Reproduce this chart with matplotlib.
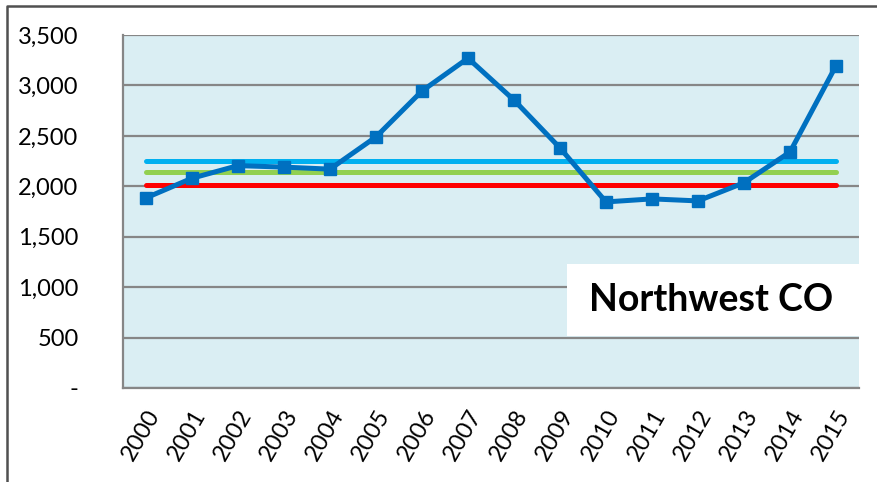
import numpy as np
import matplotlib.pyplot as plt
from matplotlib.lines import Line2D
from matplotlib.patches import Rectangle
from matplotlib.ticker import FuncFormatter

# data
years = [str(y) for y in range(2000, 2016)]
values = [1885, 2080, 2205, 2190, 2170, 2490, 2945, 3270, 2855, 2380,
          1845, 1875, 1855, 2035, 2340, 3195]
line_cyan = 2250
line_green = 2145
line_red = 2015
title = 'Northwest CO'

plt.rcParams['font.family'] = ['Lato', 'DejaVu Sans']

W, H = 877, 482
fig = plt.figure(figsize=(W / 100, H / 100), dpi=100)
ax = fig.add_axes([123 / W, 1 - 388 / H, (859 - 123) / W, (388 - 35) / H])
ax.set_facecolor('#DAEEF3')

x = np.arange(len(years))
for val, col in [(line_cyan, '#00B0F0'), (line_green, '#92D050'), (line_red, '#FF0000')]:
    ax.plot([x[0], x[-1]], [val, val], color=col, lw=3.6, solid_capstyle='round', zorder=3)
ax.plot(x, values, color='#0070C0', lw=3.6, marker='s', markersize=9, zorder=4)

ax.set_xlim(-0.5, len(years) - 0.5)
ax.set_ylim(0, 3500)
ax.set_yticks(np.arange(0, 3501, 500))
ax.yaxis.set_major_formatter(FuncFormatter(lambda v, p: '-' if v == 0 else f'{int(v):,}'))
ax.grid(axis='y', color='#868686', lw=1.6, zorder=1)
ax.set_axisbelow(True)
ax.set_xticks(x)
ax.set_xticklabels(years, rotation=60, ha='right', rotation_mode='anchor')
ax.tick_params(length=0, labelsize=17)
ax.tick_params(axis='y', pad=32)
ax.tick_params(axis='x', pad=13)
for s in ['top', 'right']:
    ax.spines[s].set_visible(False)
for s in ['left', 'bottom']:
    ax.spines[s].set_color('#868686')
    ax.spines[s].set_linewidth(1.6)

# title box
fig.add_artist(Rectangle((567 / W, 1 - 336 / H), (859 - 567) / W, 72 / H,
                         transform=fig.transFigure, facecolor='white', edgecolor='none', zorder=5))
fig.text(711 / W, 1 - 300 / H, title, fontsize=27, fontweight='bold',
         ha='center', va='center', zorder=6)

# outer frame (clipped at right and bottom)
fig.add_artist(Line2D([7 / W, 7 / W, 1.0], [0.0, 1 - 6 / H, 1 - 6 / H],
                      transform=fig.transFigure, color='#505050', lw=1.8))

fig.savefig('out.png', dpi=100)
